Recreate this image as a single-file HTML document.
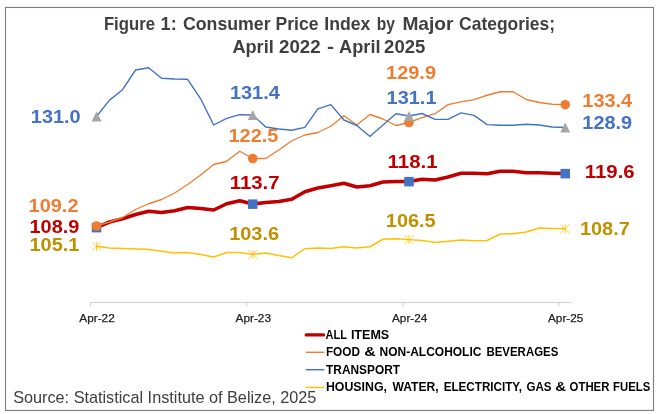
<!DOCTYPE html>
<html lang="en"><head><meta charset="utf-8"><title>Figure 1: Consumer Price Index by Major Categories</title>
<style>html,body{margin:0;padding:0;background:#fff}svg{display:block}text{font-family:"Liberation Sans",sans-serif}.lbl{font-weight:bold;font-size:18.9px}.ax{font-size:11.8px;fill:#222;stroke:#222;stroke-width:0.25px}.lg{font-weight:bold;font-size:12.8px;fill:#000}.tt{font-weight:bold;font-size:18.2px;fill:#404040}</style></head><body>
<svg width="657" height="414" viewBox="0 0 657 414">
<rect x="0" y="0" width="657" height="414" fill="#fff"/>
<rect x="5.5" y="7.45" width="648" height="403" fill="none" stroke="#808080" stroke-width="1.15"/>
<text class="tt" y="29.7" ><tspan x="103.9" textLength="51.1" lengthAdjust="spacingAndGlyphs">Figure</tspan> <tspan x="160.6" textLength="16.1" lengthAdjust="spacingAndGlyphs">1:</tspan> <tspan x="183.0" textLength="87.6" lengthAdjust="spacingAndGlyphs">Consumer</tspan> <tspan x="275.6" textLength="42.9" lengthAdjust="spacingAndGlyphs">Price</tspan> <tspan x="324.3" textLength="46.1" lengthAdjust="spacingAndGlyphs">Index</tspan> <tspan x="376.7" textLength="18.2" lengthAdjust="spacingAndGlyphs">by</tspan> <tspan x="402.4" textLength="51.1" lengthAdjust="spacingAndGlyphs">Major</tspan> <tspan x="459.1" textLength="96.0" lengthAdjust="spacingAndGlyphs">Categories;</tspan></text>
<text class="tt" y="53" ><tspan x="232.4" textLength="41.4" lengthAdjust="spacingAndGlyphs">April</tspan> <tspan x="279.0" textLength="41.7" lengthAdjust="spacingAndGlyphs">2022</tspan> <tspan x="327.1" textLength="7.0" lengthAdjust="spacingAndGlyphs">-</tspan> <tspan x="339.1" textLength="41.4" lengthAdjust="spacingAndGlyphs">April</tspan> <tspan x="384.1" textLength="41.2" lengthAdjust="spacingAndGlyphs">2025</tspan></text>
<path d="M90.4 306.5V302.5H571.5M246.7 302.5V306.5M403 302.5V306.5M559 302.5V306.5" fill="none" stroke="#cfcfcf" stroke-width="1"/>
<text class="ax" x="79.3" y="322.3" textLength="35.4" lengthAdjust="spacingAndGlyphs">Apr-22</text>
<text class="ax" x="235.6" y="322.3" textLength="35.4" lengthAdjust="spacingAndGlyphs">Apr-23</text>
<text class="ax" x="392" y="322.3" textLength="35.4" lengthAdjust="spacingAndGlyphs">Apr-24</text>
<text class="ax" x="548" y="322.3" textLength="35.4" lengthAdjust="spacingAndGlyphs">Apr-25</text>
<polyline points="96.5,227.5 109.52,222 122.54,218.75 135.56,214.5 148.58,211.25 161.6,212.5 174.62,210.75 187.64,207.5 200.66,208.5 213.68,210 226.7,203.75 239.72,200.75 252.74,204 265.76,202.5 278.78,201.5 291.8,199.25 304.82,191.75 317.84,188 330.86,185.75 343.88,183.25 356.9,187 369.92,185.75 382.94,182 395.96,181.5 408.98,181.5 422.0,179.25 435.02,180 448.04,177 461.06,173.25 474.08,173.25 487.1,173.75 500.12,171.25 513.14,171.25 526.16,172.75 539.18,172.75 552.2,173.25 565.22,173.5" fill="none" stroke="#C00000" stroke-width="3.6" stroke-linejoin="round" stroke-linecap="round"/>
<rect x="91.75" y="222.90" width="9.5" height="9.5" fill="#4472C4"/>
<rect x="247.99" y="199.40" width="9.5" height="9.5" fill="#4472C4"/>
<rect x="404.23" y="176.90" width="9.5" height="9.5" fill="#4472C4"/>
<rect x="560.47" y="168.90" width="9.5" height="9.5" fill="#4472C4"/>
<polyline points="96.5,226 109.52,222 122.54,217.5 135.56,209.5 148.58,203.75 161.6,199.5 174.62,193 187.64,184.5 200.66,175 213.68,164.5 226.7,161.25 239.72,151.25 252.74,158.5 265.76,158.5 278.78,150 291.8,140.75 304.82,135 317.84,132.5 330.86,126.25 343.88,115.75 356.9,125 369.92,114.5 382.94,119 395.96,125.5 408.98,122.5 422.0,117.6 435.02,113.7 448.04,104.6 461.06,101.9 474.08,99.6 487.1,95.25 500.12,91.75 513.14,91.75 526.16,99.5 539.18,102.5 552.2,104.25 565.22,104.7" fill="none" stroke="#ED7D31" stroke-width="1.35" stroke-linejoin="round"/>
<circle cx="96.5" cy="226" r="4.8" fill="#ED7D31"/>
<circle cx="252.74" cy="158.5" r="4.8" fill="#ED7D31"/>
<circle cx="408.98" cy="122.5" r="4.8" fill="#ED7D31"/>
<circle cx="565.22" cy="104.7" r="4.8" fill="#ED7D31"/>
<polyline points="96.5,116.5 109.52,100.1 122.54,89.7 135.56,70 148.58,67.8 161.6,78.2 174.62,79 187.64,79.3 200.66,98.8 213.68,125 226.7,118.3 239.72,114.7 252.74,115 265.76,127 278.78,129 291.8,130.3 304.82,127.4 317.84,108.9 330.86,104.6 343.88,120 356.9,125.5 369.92,136.5 382.94,125 395.96,113.75 408.98,116 422.0,113.5 435.02,119.4 448.04,119.4 461.06,112.9 474.08,115.4 487.1,124.6 500.12,125.25 513.14,125.25 526.16,124.25 539.18,125 552.2,127 565.22,127.5" fill="none" stroke="#4472C4" stroke-width="1.4" stroke-linejoin="round"/>
<path d="M96.5 111.6L101.5 121.4H91.5Z" fill="#A5A5A5"/>
<path d="M252.74 110.1L257.74 119.9H247.74Z" fill="#A5A5A5"/>
<path d="M408.98 111.1L413.98 120.9H403.98Z" fill="#A5A5A5"/>
<path d="M565.22 122.6L570.22 132.4H560.22Z" fill="#A5A5A5"/>
<polyline points="96.5,246.3 109.52,248 122.54,248.5 135.56,249 148.58,249.5 161.6,251.25 174.62,253 187.64,252.5 200.66,254.5 213.68,257 226.7,252.5 239.72,252.5 252.74,254.4 265.76,253 278.78,255.5 291.8,257.75 304.82,248.75 317.84,248 330.86,248.5 343.88,246.75 356.9,248 369.92,246.75 382.94,239.25 395.96,238.75 408.98,239.6 422.0,240.5 435.02,242.5 448.04,241.25 461.06,240 474.08,240.75 487.1,240.5 500.12,234 513.14,233.75 526.16,232 539.18,228 552.2,228.5 565.22,228.8" fill="none" stroke="#FFC000" stroke-width="1.45" stroke-linejoin="round"/>
<path d="M92.0 241.8L101.0 250.8M92.0 250.8L101.0 241.8M96.5 241.8V250.8" stroke="#FFC000" stroke-width="0.75" fill="none"/>
<path d="M248.24 249.9L257.24 258.9M248.24 258.9L257.24 249.9M252.74 249.9V258.9" stroke="#FFC000" stroke-width="0.75" fill="none"/>
<path d="M404.48 235.1L413.48 244.1M404.48 244.1L413.48 235.1M408.98 235.1V244.1" stroke="#FFC000" stroke-width="0.75" fill="none"/>
<path d="M560.72 224.3L569.72 233.3M560.72 233.3L569.72 224.3M565.22 224.3V233.3" stroke="#FFC000" stroke-width="0.75" fill="none"/>
<text class="lbl" x="30.8" y="122.5" fill="#4472C4" textLength="49.9" lengthAdjust="spacingAndGlyphs">131.0</text>
<text class="lbl" x="28.6" y="212.4" fill="#ED7D31" textLength="49.9" lengthAdjust="spacingAndGlyphs">109.2</text>
<text class="lbl" x="29.5" y="233.1" fill="#C00000" textLength="49.9" lengthAdjust="spacingAndGlyphs">108.9</text>
<text class="lbl" x="29.5" y="251.0" fill="#BF9000" textLength="49.9" lengthAdjust="spacingAndGlyphs">105.1</text>
<text class="lbl" x="229.9" y="99.2" fill="#4472C4" textLength="49.9" lengthAdjust="spacingAndGlyphs">131.4</text>
<text class="lbl" x="228.5" y="142.0" fill="#ED7D31" textLength="49.9" lengthAdjust="spacingAndGlyphs">122.5</text>
<text class="lbl" x="229.7" y="188.7" fill="#C00000" textLength="49.9" lengthAdjust="spacingAndGlyphs">113.7</text>
<text class="lbl" x="229.2" y="240.1" fill="#BF9000" textLength="49.9" lengthAdjust="spacingAndGlyphs">103.6</text>
<text class="lbl" x="386.1" y="78.5" fill="#ED7D31" textLength="49.9" lengthAdjust="spacingAndGlyphs">129.9</text>
<text class="lbl" x="386.6" y="104.0" fill="#4472C4" textLength="49.9" lengthAdjust="spacingAndGlyphs">131.1</text>
<text class="lbl" x="387.6" y="168.0" fill="#C00000" textLength="49.9" lengthAdjust="spacingAndGlyphs">118.1</text>
<text class="lbl" x="385.8" y="227.4" fill="#BF9000" textLength="49.9" lengthAdjust="spacingAndGlyphs">106.5</text>
<text class="lbl" x="582.3" y="107.1" fill="#ED7D31" textLength="49.9" lengthAdjust="spacingAndGlyphs">133.4</text>
<text class="lbl" x="582.3" y="129.2" fill="#4472C4" textLength="49.9" lengthAdjust="spacingAndGlyphs">128.9</text>
<text class="lbl" x="584.8" y="177.8" fill="#C00000" textLength="49.9" lengthAdjust="spacingAndGlyphs">119.6</text>
<text class="lbl" x="579.9" y="234.5" fill="#BF9000" textLength="49.9" lengthAdjust="spacingAndGlyphs">108.7</text>
<line x1="306.3" y1="334.9" x2="323.5" y2="334.9" stroke="#C00000" stroke-width="3.4" stroke-linecap="round"/>
<text class="lg" y="339.0" ><tspan x="325.6" textLength="21.2" lengthAdjust="spacingAndGlyphs">ALL</tspan> <tspan x="350.9" textLength="38.3" lengthAdjust="spacingAndGlyphs">ITEMS</tspan></text>
<line x1="305.8" y1="352.3" x2="324.3" y2="352.3" stroke="#ED7D31" stroke-width="1.4"/>
<text class="lg" y="356.4" ><tspan x="325.9" textLength="34.1" lengthAdjust="spacingAndGlyphs">FOOD</tspan> <tspan x="364.3" textLength="11.5" lengthAdjust="spacingAndGlyphs">&amp;</tspan> <tspan x="379.6" textLength="101.8" lengthAdjust="spacingAndGlyphs">NON-ALCOHOLIC</tspan> <tspan x="486.4" textLength="72.0" lengthAdjust="spacingAndGlyphs">BEVERAGES</tspan></text>
<line x1="305.8" y1="369.7" x2="324.3" y2="369.7" stroke="#4472C4" stroke-width="1.4"/>
<text class="lg" y="373.9" ><tspan x="326.1" textLength="73.9" lengthAdjust="spacingAndGlyphs">TRANSPORT</tspan></text>
<line x1="305.8" y1="387.4" x2="324.3" y2="387.4" stroke="#FFC000" stroke-width="1.4"/>
<text class="lg" y="391.3" ><tspan x="325.9" textLength="61.1" lengthAdjust="spacingAndGlyphs">HOUSING,</tspan> <tspan x="392.5" textLength="46.2" lengthAdjust="spacingAndGlyphs">WATER,</tspan> <tspan x="443.7" textLength="78.4" lengthAdjust="spacingAndGlyphs">ELECTRICITY,</tspan> <tspan x="526.4" textLength="25.1" lengthAdjust="spacingAndGlyphs">GAS</tspan> <tspan x="555.3" textLength="10.8" lengthAdjust="spacingAndGlyphs">&amp;</tspan> <tspan x="569.6" textLength="39.8" lengthAdjust="spacingAndGlyphs">OTHER</tspan> <tspan x="613.1" textLength="37.1" lengthAdjust="spacingAndGlyphs">FUELS</tspan></text>
<text x="13.2" y="403.1" font-size="16.2" fill="#404040" textLength="303.2" lengthAdjust="spacingAndGlyphs">Source: Statistical Institute of Belize, 2025</text>
</svg></body></html>
